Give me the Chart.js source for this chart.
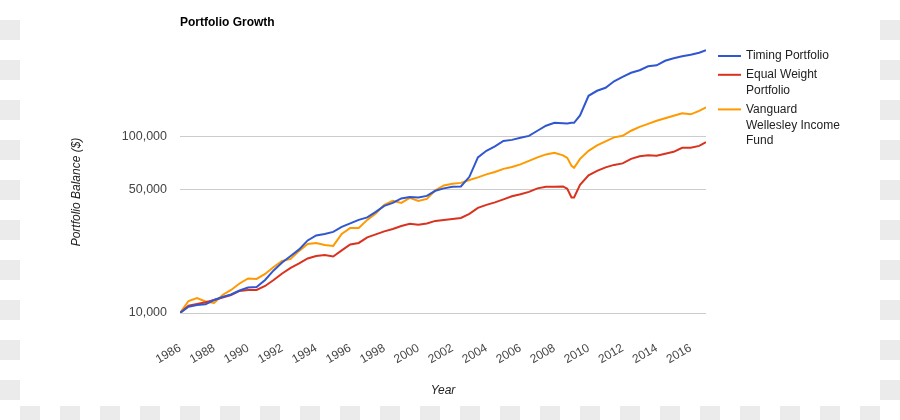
<!DOCTYPE html>
<html>
<head>
<meta charset="utf-8">
<title>Portfolio Growth</title>
<script src="https://cdn.jsdelivr.net/npm/chart.js@4.4.1/dist/chart.umd.min.js"></script>
<style>
  html, body { margin: 0; padding: 0; }
  body {
    width: 900px;
    height: 420px;
    position: relative;
    overflow: hidden;
    background-color: #fff;
    background-image: conic-gradient(#ebebeb 25%, transparent 0 50%, #ebebeb 0 75%, transparent 0);
    background-size: 40px 40px;
  }
  #panel { position: absolute; left: 20px; top: 0; width: 860px; height: 406px; background: #fff; }
  #growthChart { position: absolute; left: 0; top: 0; }
</style>
</head>
<body>
<div id="panel"></div>
<canvas id="growthChart" width="900" height="420"></canvas>
<script>
  // half-year steps, with a few extra points around the 2008/09 drop
  const years = [1986, 1986.5, 1987, 1987.5, 1988, 1988.5, 1989, 1989.5, 1990, 1990.5,
    1991, 1991.5, 1992, 1992.5, 1993, 1993.5, 1994, 1994.5, 1995, 1995.5,
    1996, 1996.5, 1997, 1997.5, 1998, 1998.5, 1999, 1999.5, 2000, 2000.5,
    2001, 2001.5, 2002, 2002.5, 2003, 2003.5, 2004, 2004.5, 2005, 2005.5,
    2006, 2006.5, 2007, 2007.5, 2008, 2008.5, 2008.75, 2009, 2009.15, 2009.5,
    2010, 2010.5, 2011, 2011.5, 2012, 2012.5, 2013, 2013.5, 2014, 2014.5,
    2015, 2015.5, 2016, 2016.5, 2016.9];

  const timing = [10000, 10860, 11100, 11200, 11850, 12330, 12740, 13420, 13960, 14060,
    15400, 17440, 19360, 21080, 22960, 25820, 27560, 28100, 28860, 30810,
    32250, 33770, 34900, 37490, 40560, 42170, 44730, 45600, 45300, 46200,
    49400, 51000, 52000, 52300, 59300, 76500, 83300, 88300, 94800, 96100,
    98700, 101300, 108300, 115600, 120100, 119500, 119000, 120100, 120100, 132400,
    171000, 182600, 189800, 206700, 219200, 231000, 238700, 251400, 254700, 270300,
    279300, 286600, 292200, 300100, 310400];

  const equalWeight = [10000, 11000, 11260, 11510, 11850, 12250, 12660, 13340, 13510, 13510,
    14240, 15400, 16760, 18020, 19110, 20400, 21080, 21360, 20940, 22660,
    24510, 24990, 26860, 27930, 29060, 30000, 31200, 32090, 31670, 32250,
    33330, 33770, 34200, 34660, 36520, 39500, 41100, 42450, 44150, 45950,
    47200, 48700, 51000, 52000, 52000, 52300, 50700, 45300, 45300, 53400,
    60500, 64100, 67100, 69300, 70700, 75000, 77600, 78500, 78100, 80100,
    82200, 86600, 86600, 88800, 93200];

  const wellesley = [10000, 11700, 12170, 11620, 11400, 12660, 13510, 14710, 15700, 15600,
    16660, 18260, 19740, 20270, 22530, 24670, 24990, 24350, 24030, 28100,
    30410, 30410, 33770, 36760, 41100, 43300, 42170, 45020, 43300, 44400,
    49700, 53000, 54100, 54780, 56900, 58900, 61200, 63200, 65800, 67500,
    69800, 73000, 76500, 79500, 81100, 78500, 75970, 68400, 66660, 75000,
    83300, 89400, 94200, 99300, 101300, 108300, 114000, 118500, 123300, 127400,
    131600, 136000, 134200, 140500, 147000];

  const seriesNames = ["Timing Portfolio", "Equal Weight Portfolio", "Vanguard Wellesley Income Fund"];
  const seriesColors = ["#3157d0", "#d9321f", "#ff9900"];

  const xTicks = [1986, 1988, 1990, 1992, 1994, 1996, 1998, 2000, 2002, 2004, 2006, 2008, 2010, 2012, 2014, 2016];
  const yTicks = [10000, 50000, 100000];

  const FONT = "'Liberation Sans', Arial, sans-serif";
  Chart.defaults.font.family = FONT;
  Chart.defaults.font.size = 12;
  Chart.defaults.color = "#444";

  function toPoints(values) {
    return values.map((v, i) => ({ x: years[i], y: v }));
  }

  function wrapText(ctx, text, maxWidth) {
    const words = text.split(" ");
    const lines = [];
    let line = "";
    words.forEach((w) => {
      const test = line ? line + " " + w : w;
      if (line && ctx.measureText(test).width > maxWidth) {
        lines.push(line);
        line = w;
      } else {
        line = test;
      }
    });
    if (line) lines.push(line);
    return lines;
  }

  // title, y axis title and the wrapped legend on the right
  const sideTextPlugin = {
    id: "sideText",
    afterDraw(chart) {
      const { ctx } = chart;
      ctx.save();

      ctx.font = `bold 12px ${FONT}`;
      ctx.fillStyle = "#000";
      ctx.textAlign = "left";
      ctx.textBaseline = "middle";
      ctx.fillText("Portfolio Growth", 180, 23);

      ctx.save();
      ctx.translate(77, 192);
      ctx.rotate(-Math.PI / 2);
      ctx.font = `italic 12px ${FONT}`;
      ctx.fillStyle = "#222";
      ctx.textAlign = "center";
      ctx.fillText("Portfolio Balance ($)", 0, 0);
      ctx.restore();

      ctx.font = `12px ${FONT}`;
      ctx.textAlign = "left";
      let y = 56;
      chart.data.datasets.forEach((ds) => {
        const lines = wrapText(ctx, ds.label, 100);
        ctx.strokeStyle = ds.borderColor;
        ctx.lineWidth = 2;
        ctx.beginPath();
        ctx.moveTo(718, y);
        ctx.lineTo(741, y);
        ctx.stroke();
        ctx.fillStyle = "#222";
        lines.forEach((line, i) => ctx.fillText(line, 746, y + i * 15.8));
        y += lines.length * 15.8 + 3;
      });

      ctx.restore();
    },
  };

  const growthCtx = document.getElementById("growthChart").getContext("2d");
  const growthChart = new Chart(growthCtx, {
    type: "line",
    data: {
      datasets: [timing, equalWeight, wellesley].map((values, i) => ({
        label: seriesNames[i],
        data: toPoints(values),
        borderColor: seriesColors[i],
        backgroundColor: seriesColors[i],
        borderWidth: 2,
        pointRadius: 0,
        tension: 0,
        fill: false,
      })),
    },
    options: {
      responsive: false,
      animation: false,
      layout: {
        padding: { top: 41, right: 194, bottom: 0, left: 0 },
      },
      scales: {
        x: {
          type: "linear",
          min: 1986,
          max: 2016.9,
          afterBuildTicks(scale) {
            scale.ticks = xTicks.map((v) => ({ value: v }));
          },
          afterFit(scale) {
            scale.height = 107;
          },
          grid: { display: false, drawTicks: false },
          border: { display: false },
          ticks: {
            autoSkip: false,
            maxRotation: 30,
            minRotation: 30,
            padding: 28,
            color: "#444",
            font: { size: 12 },
            callback: (v) => String(v),
          },
          title: {
            display: true,
            text: "Year",
            color: "#222",
            font: { size: 12, style: "italic" },
            padding: { top: 0, bottom: 22 },
          },
        },
        y: {
          type: "logarithmic",
          min: 10000,
          max: 350000,
          afterBuildTicks(scale) {
            scale.ticks = yTicks.map((v) => ({ value: v }));
          },
          afterFit(scale) {
            scale.width = 180;
          },
          grid: { color: "#cccccc", drawTicks: false },
          border: { display: false },
          ticks: {
            autoSkip: false,
            padding: 13,
            color: "#444",
            font: { size: 12.5 },
            callback: (v) => Number(v).toLocaleString("en-US"),
          },
        },
      },
      plugins: {
        legend: { display: false },
        tooltip: { enabled: false },
      },
    },
    plugins: [sideTextPlugin],
  });
</script>
</body>
</html>
